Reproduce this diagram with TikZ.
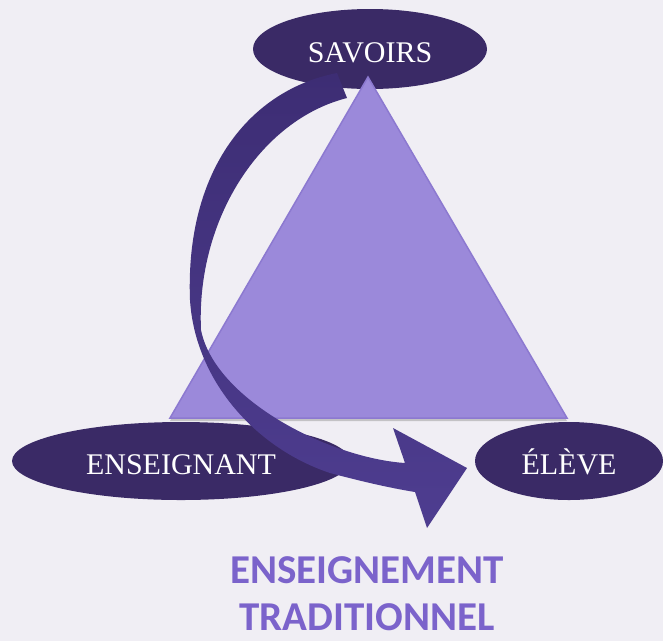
\documentclass[tikz,border=0pt]{standalone}
\usepackage{fontspec}
\setmainfont{Liberation Serif}
\newfontfamily\titlefont{Carlito}
\usetikzlibrary{shapes.geometric,shadows}

\definecolor{paper}{HTML}{F0EEF4}
\definecolor{poledark}{HTML}{3A2A66}
\definecolor{trifill}{HTML}{9B89DA}
\definecolor{triedge}{HTML}{8C79D0}
\definecolor{arrowtop}{HTML}{3D2D74}
\definecolor{arrowbot}{HTML}{4E3D90}
\definecolor{titlepurple}{HTML}{7B63CB}

\begin{document}
\begin{tikzpicture}[x=1pt, y=-1pt,
    pole/.style={ellipse, fill=poledark, text=white, inner sep=0pt,
        font=\fontsize{30}{36}\selectfont, text height=27pt, text depth=0pt}]
  \fill[paper] (0,0) rectangle (663,641);
  \useasboundingbox (0,0) rectangle (663,641);

  % the three poles
  \node[pole, minimum width=234pt, minimum height=80pt] (savoirs) at (370,49) {SAVOIRS};
  \node[pole, minimum width=338pt, minimum height=78pt] (enseignant) at (181,461) {ENSEIGNANT};
  \node[pole, minimum width=188pt, minimum height=78pt] (eleve) at (569,461) {ÉLÈVE};

  % triangle
  \coordinate (apex) at (368,77);
  \coordinate (left) at (170,418);
  \coordinate (right) at (567,418);
  \fill[trifill, draw=triedge, line width=1.5pt,
        drop shadow={shadow xshift=0pt, shadow yshift=-3pt, opacity=.4}]
        (apex) -- (right) -- (left) -- cycle;

  % curved arrow
  \shade[top color=arrowtop, bottom color=arrowbot]
    (337,73) .. controls (250,90) and (185,170) .. (190,300)
    .. controls (195,380) and (255,448) .. (330,473)
    .. controls (360,481) and (390,488) .. (415,492)
    -- (427,528) -- (467,468) -- (393,428) -- (405,463)
    .. controls (330,458) and (215,400) .. (201,330)
    .. controls (196,220) and (260,120) .. (347,98) -- cycle;

  \node[text=titlepurple, align=center,
        font=\titlefont\bfseries\fontsize{41}{47}\selectfont] (title) at (367,594)
        {ENSEIGNEMENT\\TRADITIONNEL};
\end{tikzpicture}
\end{document}
